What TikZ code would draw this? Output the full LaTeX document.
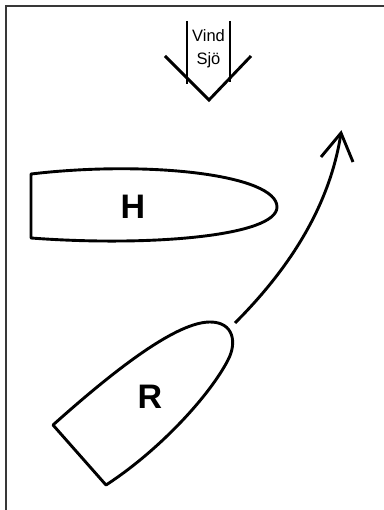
\documentclass[tikz,border=0pt]{standalone}
\usepackage{fontspec}
\setmainfont{Liberation Sans}
\begin{document}
\begin{tikzpicture}[x=1pt,y=-1pt,
  hull/.style={line width=2.9pt,line join=round},
  wind/.style={line width=2.9pt},
  lbl/.style={font=\fontsize{16.5}{19}\selectfont,inner sep=0pt},
  boatlbl/.style={font=\fontsize{34}{38}\selectfont\bfseries,inner sep=0pt},
  frame/.style={draw=black!78,line width=2.2pt}]
\useasboundingbox (0,0) rectangle (383,510);
\fill[white] (0,0) rectangle (383,510);
% frame
\draw[frame] (6,520) -- (6,6) -- (390,6);
% wind / sea symbol
\coordinate (wl) at (187,21);
\coordinate (wr) at (230,21);
\coordinate (tip) at (209,100);
\draw[wind] (wl) -- (187,84);
\draw[wind] (wr) -- (230,82);
\draw[wind,line join=miter] (165,56) -- (tip) -- (251,56);
\node[lbl] (vind) at (208.5,36) {Vind};
\node[lbl] (sjo) at (208.5,60) {Sjö};
% boat H
\draw[hull] (31,174) .. controls (150,160) and (277,175) .. (277,207)
  .. controls (277,236) and (150,247) .. (31,238) -- cycle;
\node[boatlbl] (H) at (133,207) {H};
% boat R
\draw[hull] (53,425) .. controls (120,365) and (178,322) .. (210,322)
  .. controls (234,322) and (237,343) .. (228,360)
  .. controls (210,395) and (160,450) .. (106,485) -- cycle;
\node[boatlbl] (R) at (150,397) {R};
% course arrow
\coordinate (a0) at (235,323);
\coordinate (a1) at (341,133);
\draw[line width=2.9pt] (a0) .. controls (296,262) and (331,199) .. (a1);
\draw[line width=2.9pt,line join=miter] (321,157) -- (a1) -- (353,162);
\end{tikzpicture}
\end{document}
